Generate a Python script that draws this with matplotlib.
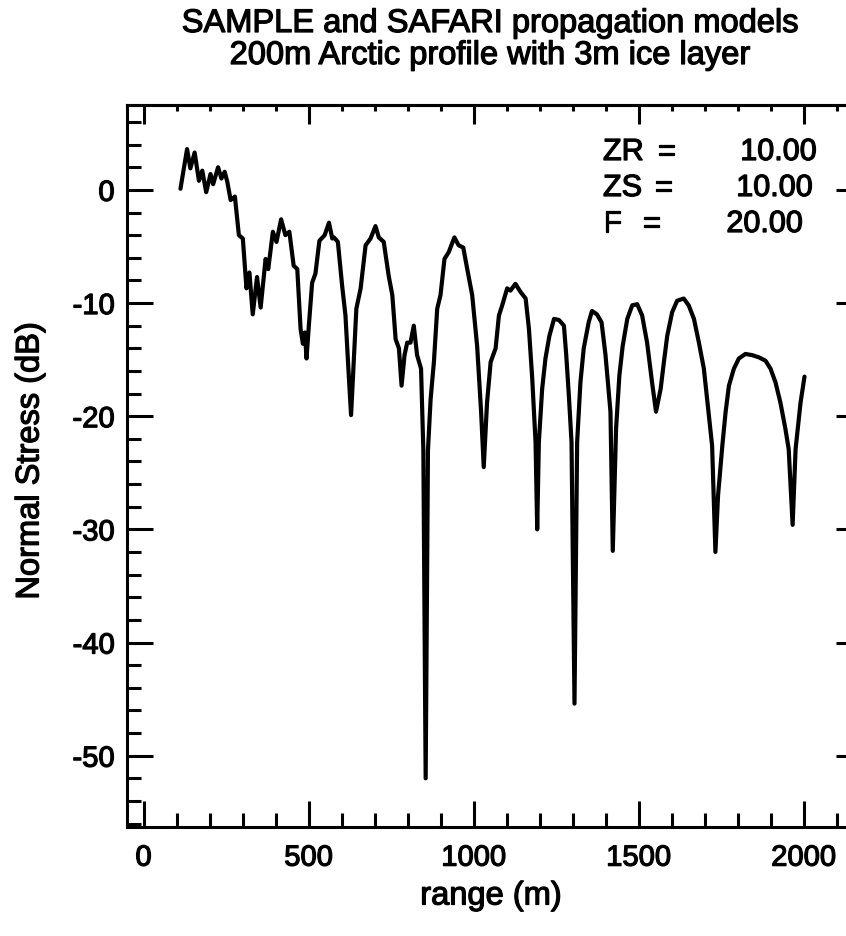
import matplotlib
matplotlib.use("Agg")
import matplotlib.pyplot as plt
import matplotlib.patheffects as pe
from matplotlib.ticker import MultipleLocator, NullFormatter

plt.rcParams['font.family'] = ['Liberation Sans', 'DejaVu Sans']
plt.rcParams['axes.unicode_minus'] = False

# values
range_m = [112, 132, 142, 155, 168, 178, 190, 203, 211, 226, 236, 246, 254, 264,
           277, 289, 301, 312, 321, 331, 344, 355, 370, 378, 392, 403, 417, 430,
           442, 455, 466, 476, 483, 489, 494, 501, 511, 521, 533, 549, 562, 572,
           577, 589, 602, 612, 622, 629, 637, 645, 658, 673, 688, 703, 713, 728,
           743, 754, 764, 774, 782, 791, 799, 809, 819, 829, 841, 848, 855, 862,
           870, 880, 890, 900, 912, 925, 942, 955, 969, 981, 996, 1011, 1023,
           1031, 1041, 1052, 1067, 1077, 1087, 1102, 1112, 1127, 1142, 1158,
           1168, 1178, 1188, 1193, 1198, 1208, 1218, 1230, 1244, 1259, 1274,
           1281, 1289, 1297, 1306, 1314, 1324, 1334, 1349, 1359, 1374, 1388,
           1400, 1415, 1422, 1432, 1442, 1452, 1466, 1481, 1496, 1511, 1526,
           1541, 1553, 1567, 1577, 1587, 1602, 1617, 1637, 1652, 1668, 1683,
           1698, 1713, 1723, 1733, 1741, 1754, 1764, 1774, 1789, 1804, 1824,
           1844, 1865, 1885, 1900, 1915, 1930, 1945, 1955, 1967, 1976, 1991, 2003]
stress_db = [0.1, 3.6, 1.9, 3.3, 0.8, 1.7, -0.2, 1.4, 0.5, 2.0, 1.0, 1.6, 0.7, -0.9,
             -0.6, -4.0, -4.3, -8.7, -7.3, -11.0, -7.7, -10.4, -6.1, -7.0, -3.7,
             -4.6, -2.6, -4.0, -3.7, -6.7, -7.0, -12.3, -13.6, -12.6, -14.9,
             -12.0, -8.2, -7.4, -4.5, -4.0, -2.9, -4.3, -4.2, -4.6, -8.5, -11.1,
             -16.4, -19.9, -15.2, -10.5, -8.7, -4.9, -4.3, -3.2, -4.2, -4.6,
             -7.6, -9.3, -13.2, -14.0, -17.3, -14.6, -13.5, -13.5, -12.0, -14.6,
             -15.8, -23.0, -52.0, -23.0, -18.5, -15.2, -10.5, -9.3, -6.1, -5.5,
             -4.2, -4.9, -5.1, -7.0, -9.3, -13.8, -19.6, -24.5, -18.8, -15.2,
             -14.0, -11.1, -10.2, -8.7, -8.9, -8.3, -9.0, -9.6, -12.3, -16.7,
             -22.3, -30.0, -22.3, -17.6, -14.9, -12.9, -11.4, -11.5, -12.0,
             -14.6, -18.2, -22.3, -45.4, -22.3, -17.0, -14.0, -11.7, -10.7,
             -11.0, -11.7, -14.6, -19.6, -31.9, -21.1, -16.4, -13.8, -11.4,
             -10.2, -10.1, -11.1, -13.5, -17.0, -19.6, -17.6, -15.2, -12.9,
             -10.8, -9.8, -9.6, -10.2, -11.4, -13.5, -15.8, -19.9, -22.6, -32.0,
             -27.0, -22.6, -19.6, -17.3, -15.8, -14.9, -14.5, -14.6, -14.8,
             -15.1, -15.8, -17.0, -18.8, -21.1, -22.9, -29.6, -22.9, -18.8, -16.5]

param_names = ['ZR =', 'ZS =', 'F  =']
param_values = ['10.00', '10.00', '20.00']

# slight stroke so text looks like the heavy scanned print
ink = [pe.withStroke(linewidth=0.9, foreground='black')]

W, H = 846, 937
fig = plt.figure(figsize=(W / 100, H / 100), dpi=100)
ax = fig.add_axes([127 / W, (H - 828) / H, 728 / W, 722 / H])

ax.plot(range_m, stress_db, color='black', lw=3.0, solid_joinstyle='round',
        solid_capstyle='round')
ax.set_xlim(-50, 2156)
ax.set_ylim(-56.3, 7.5)

ax.xaxis.set_major_locator(MultipleLocator(500))
ax.xaxis.set_minor_locator(MultipleLocator(100))
ax.yaxis.set_major_locator(MultipleLocator(10))
ax.yaxis.set_minor_locator(MultipleLocator(2))
ax.tick_params(which='both', direction='in', width=2.2, top=False, right=False,
               labelsize=21)
ax.tick_params(which='major', length=18.5)
ax.tick_params(which='minor', length=10)
ax.tick_params(axis='x', pad=12)
ax.tick_params(axis='y', pad=9)
for s in ax.spines.values():
    s.set_linewidth(2.2)
for lab in ax.get_xticklabels() + ax.get_yticklabels():
    lab.set_path_effects(ink)

# shorter ticks on top and right, no labels
top = ax.secondary_xaxis('top')
top.xaxis.set_major_locator(MultipleLocator(500))
top.xaxis.set_minor_locator(MultipleLocator(100))
top.xaxis.set_major_formatter(NullFormatter())
top.tick_params(which='both', direction='in', width=2.2)
top.tick_params(which='major', length=13.5)
top.tick_params(which='minor', length=4.5)
top.spines['top'].set_linewidth(2.2)

right = ax.secondary_yaxis('right')
right.yaxis.set_major_locator(MultipleLocator(10))
right.yaxis.set_minor_locator(MultipleLocator(2))
right.yaxis.set_major_formatter(NullFormatter())
right.tick_params(which='both', direction='in', width=2.2)
right.tick_params(which='major', length=13.5)
right.tick_params(which='minor', length=4.5)
right.spines['right'].set_linewidth(2.2)

fig.text(490 / W, 1 - 33 / H, 'SAMPLE and SAFARI propagation models',
         ha='center', va='baseline', fontsize=23.5, path_effects=ink)
fig.text(490 / W, 1 - 65 / H, '200m Arctic profile with 3m ice layer',
         ha='center', va='baseline', fontsize=23.5, path_effects=ink)
fig.text(491 / W, 1 - 897 / H, 'range (m)', ha='center', va='center',
         fontsize=23.5, path_effects=ink)
fig.text(30 / W, 1 - 462 / H, 'Normal Stress (dB)', ha='center', va='center',
         rotation=90, fontsize=23.5, path_effects=ink)

eq_x = [658, 655, 643]
val_x = [817, 813, 803]
base_y = [161, 197, 233]
for name, val, ex, vx, by in zip(param_names, param_values, eq_x, val_x, base_y):
    label, eq = name.split()
    fig.text(603 / W, 1 - by / H, label, ha='left', va='baseline', fontsize=22,
             path_effects=ink)
    fig.text(ex / W, 1 - by / H, eq, ha='left', va='baseline', fontsize=22,
             path_effects=ink)
    fig.text(vx / W, 1 - by / H, val, ha='right', va='baseline', fontsize=22,
             path_effects=ink)

fig.savefig('out.png', dpi=100)
